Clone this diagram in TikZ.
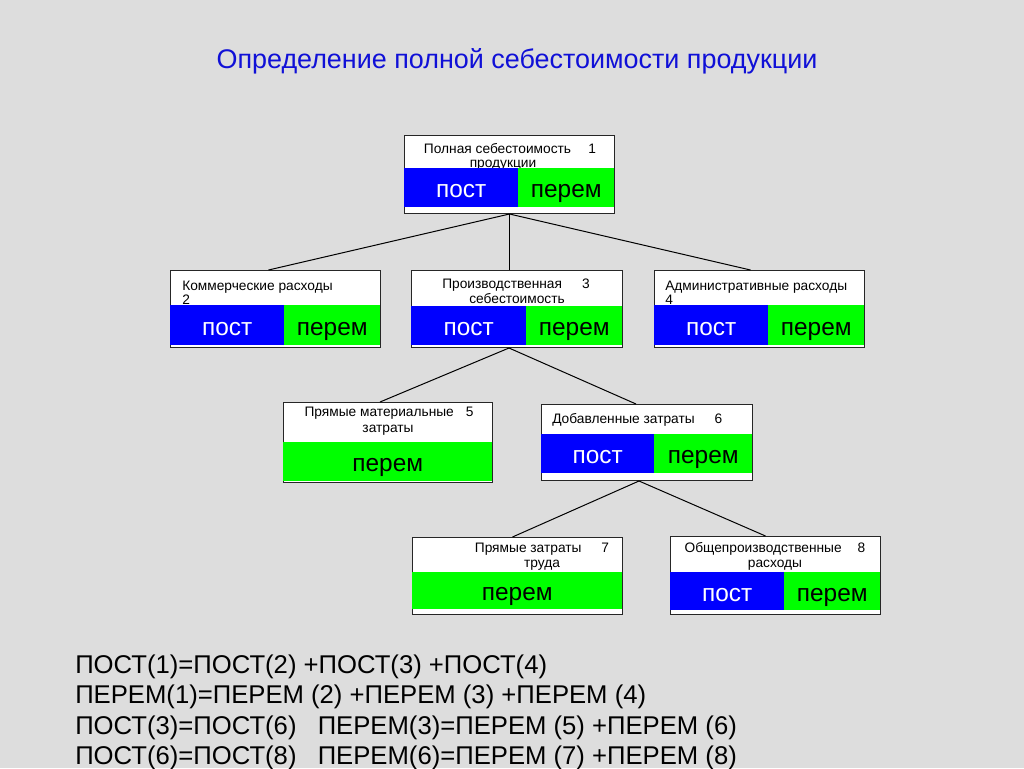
\documentclass[tikz,border=0pt]{standalone}
\usepackage{fontspec}
\setmainfont{Liberation Sans}
\usetikzlibrary{calc}
\definecolor{bg}{RGB}{221,221,221}
\definecolor{titleblue}{RGB}{16,16,215}
\definecolor{barblue}{RGB}{0,0,255}
\definecolor{bargreen}{RGB}{0,255,0}
\tikzset{
  sz/.style 2 args={minimum width={#1*0.75pt}, minimum height={#2*0.75pt}},
  box/.style={draw=black!85, line width=0.75pt, fill=white, inner sep=0pt, anchor=north west},
  postbar/.style={fill=barblue, inner sep=0pt, anchor=north west, text=white,
    font=\fontsize{18.3}{19}\selectfont, text height=15pt, text depth=0pt},
  perembar/.style={fill=bargreen, inner sep=0pt, anchor=north west, text=black,
    font=\fontsize{18.3}{19}\selectfont, text height=15pt, text depth=0pt},
  lbl/.style={inner sep=0pt, anchor=base, font=\fontsize{10.3}{11}\selectfont},
  lblw/.style={inner sep=0pt, anchor=base west, font=\fontsize{10.3}{11}\selectfont},
  formula/.style={inner sep=0pt, anchor=base west, font=\fontsize{19.25}{22}\selectfont},
  conn/.style={draw=black, line width=0.75pt},
}
\begin{document}
\begin{tikzpicture}[x=0.75pt, y=-0.75pt]
\fill[bg] (0,0) rectangle (1024,768);
\useasboundingbox (0,0) rectangle (1024,768);

% title
\node[inner sep=0pt, anchor=base, text=titleblue, font=\fontsize{20.2}{22}\selectfont] (title) at (517,68) {Определение полной себестоимости продукции};

% box 1
\node[box, sz={210}{78}] (b1) at (404,135) {};
\node[lbl] (t1a) at (510,153) {Полная себестоимость\hspace{13pt}1};
\node[lbl] (t1b) at (503,167.5) {продукции};
\node[postbar, sz={114}{39}] (b1p) at (404,168) {пост};
\node[perembar, sz={96}{39}] (b1m) at (518,168) {перем};

% box 2
\node[box, sz={210}{77}] (b2) at (170,270) {};
\node[lblw] (t2a) at (182,290) {Коммерческие расходы};
\node[lblw] (t2b) at (182,304.5) {2};
\node[postbar, sz={114}{40}] (b2p) at (170,305) {пост};
\node[perembar, sz={96}{40}] (b2m) at (284,305) {перем};

% box 3
\node[box, sz={211}{77}] (b3) at (411,270) {};
\node[lbl] (t3a) at (516,288) {Производственная\hspace{15pt}3};
\node[lbl] (t3b) at (517,303) {себестоимость};
\node[postbar, sz={115}{39}] (b3p) at (411,306) {пост};
\node[perembar, sz={96}{39}] (b3m) at (526,306) {перем};

% box 4
\node[box, sz={210}{77}] (b4) at (654,270) {};
\node[lblw] (t4a) at (665,290) {Административные расходы};
\node[lblw] (t4b) at (665,304.5) {4};
\node[postbar, sz={114}{40}] (b4p) at (654,305) {пост};
\node[perembar, sz={96}{40}] (b4m) at (768,305) {перем};

% box 5
\node[box, sz={209}{80}] (b5) at (283,402) {};
\node[lbl] (t5a) at (389,416) {Прямые материальные\hspace{9pt}5};
\node[lbl] (t5b) at (388,432) {затраты};
\node[perembar, sz={209}{39}] (b5m) at (283,442) {перем};

% box 6
\node[box, sz={211}{76}] (b6) at (541,404) {};
\node[lblw] (t6a) at (552,423) {Добавленные затраты\hspace{15pt}6};
\node[postbar, sz={113}{39}] (b6p) at (541,434) {пост};
\node[perembar, sz={98}{39}] (b6m) at (654,434) {перем};

% box 7
\node[box, sz={210}{77}] (b7) at (412,537) {};
\node[lbl] (t7a) at (542,552) {Прямые затраты\hspace{15pt}7};
\node[lbl] (t7b) at (542,567) {труда};
\node[perembar, sz={210}{37}] (b7m) at (412,572) {перем};

% box 8
\node[box, sz={210}{78}] (b8) at (670,536) {};
\node[lbl] (t8a) at (775,552) {Общепроизводственные\hspace{12pt}8};
\node[lbl] (t8b) at (775,567) {расходы};
\node[postbar, sz={114}{38}] (b8p) at (670,572) {пост};
\node[perembar, sz={96}{38}] (b8m) at (784,572) {перем};

% connectors
\draw[conn] (b1.south) -- ($(b2.north)+(-7,0)$);
\draw[conn] (b1.south) -- (b1.south |- b3.north);
\draw[conn] (b1.south) -- ($(b4.north)+(-9,0)$);
\draw[conn] ($(b3.south)+(-8,0)$) -- ($(b5.north)+(-8,0)$);
\draw[conn] ($(b3.south)+(-8,0)$) -- ($(b6.north)+(-11,0)$);
\draw[conn] ($(b6.south)+(-8,0)$) -- ($(b7.north)+(-5,0)$);
\draw[conn] ($(b6.south)+(-8,0)$) -- ($(b8.north)+(-10,0)$);

% formulas
\node[formula] (f1) at (75,673) {ПОСТ(1)=ПОСТ(2) +ПОСТ(3) +ПОСТ(4)};
\node[formula] (f2) at (75,703) {ПЕРЕМ(1)=ПЕРЕМ (2) +ПЕРЕМ (3) +ПЕРЕМ (4)};
\node[formula] (f3) at (75,734) {ПОСТ(3)=ПОСТ(6)\hspace{0.55em} ПЕРЕМ(3)=ПЕРЕМ (5) +ПЕРЕМ (6)};
\node[formula] (f4) at (75,764) {ПОСТ(6)=ПОСТ(8)\hspace{0.55em} ПЕРЕМ(6)=ПЕРЕМ (7) +ПЕРЕМ (8)};
\end{tikzpicture}
\end{document}
